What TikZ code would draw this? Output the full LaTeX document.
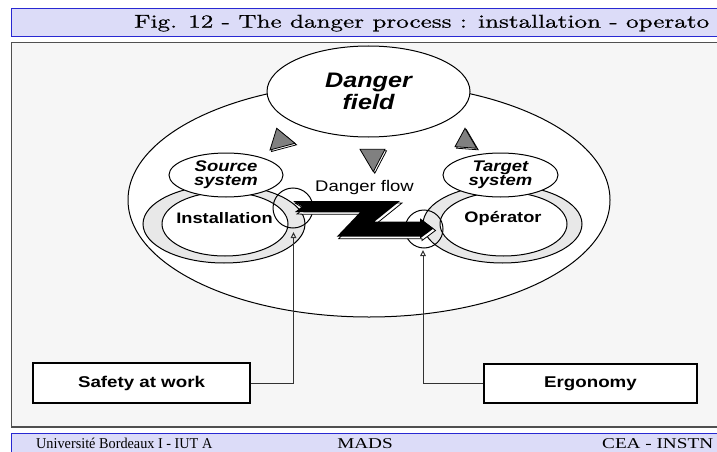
\documentclass[tikz,border=0pt]{standalone}
\usepackage{fontspec}
\setsansfont{Liberation Sans}[FakeStretch=1.2]
\newfontfamily\headfont{lmroman10-regular}[Extension=.otf,FakeStretch=1.35,FakeBold=0.6]
\newfontfamily\footfont{Liberation Serif}[FakeStretch=0.95]
\newfontfamily\footwide{Liberation Serif}[FakeStretch=1.28]
\usetikzlibrary{shapes.geometric,arrows.meta}
\definecolor{bandfill}{RGB}{220,220,248}
\definecolor{bandline}{RGB}{40,40,210}
\definecolor{framefill}{RGB}{246,246,246}
\definecolor{framegray}{RGB}{80,80,80}
\definecolor{ringgray}{RGB}{232,232,232}
\definecolor{wedgegray}{RGB}{128,128,128}
\definecolor{leadgray}{RGB}{50,50,50}
\newcommand{\zbolt}{(293,-201) -- (400,-201) -- (374.3,-221.7) -- (420,-221.7) -- (420,-218.3) -- (433.5,-228.5) -- (420,-238.5) -- (420,-236.7) -- (336.7,-236.7) -- (360,-212.3) -- (305,-212.3) -- (295,-212) -- (302,-206.5) -- cycle}
\begin{document}
\begin{tikzpicture}[x=1pt,y=1pt]
\tikzstyle{every node}+=[inner sep=0pt]
\tikzstyle{bubble}=[ellipse, draw, fill=white, line width=1pt]
\tikzstyle{ring}=[ellipse, draw, fill=ringgray, line width=1pt]
\tikzstyle{port}=[circle, draw, line width=1pt]
\tikzstyle{wedge}=[draw, fill=wedgegray, line width=0.8pt]
\tikzstyle{workbox}=[rectangle, draw, fill=white, line width=1.2pt, font=\sffamily\bfseries\fontsize{15.6}{18}\selectfont]
\tikzstyle{lead}=[draw=leadgray, line width=1pt, -{Triangle[open,length=6pt,width=5.5pt]}]
\clip (0,0) rectangle (717,-452);
\draw [draw=bandline, fill=bandfill, line width=1pt] (11.5,-8.5) rectangle (730,-37);
\node [anchor=base west, font=\headfont\fontsize{18.6}{20}\selectfont] (title) at (134,-27.7) {Fig. 12 - The danger process : installation - operato};
\draw [draw=framegray, fill=framefill, line width=1.5pt] (11.5,-42.5) rectangle (730,-427);
\draw [draw=bandline, fill=bandfill, line width=1pt] (11.5,-433) rectangle (730,-470);
\node [anchor=base west, font=\footfont\fontsize{15}{16}\selectfont] (school) at (36,-448.3) {Université Bordeaux I - IUT A};
\node [anchor=base, font=\footwide\fontsize{15}{16}\selectfont] (course) at (365,-448.3) {MADS};
\node [anchor=base west, font=\footwide\fontsize{15}{16}\selectfont] (lab) at (602,-448.3) {CEA - INSTN};
\node [bubble, minimum width=482, minimum height=234] (area) at (369,-200) {};
\node [bubble, minimum width=203, minimum height=91, align=center, font=\sffamily\bfseries\itshape\fontsize{21}{21.7}\selectfont] (danger) at (368.5,-91.5) {Danger\\field};
\filldraw [wedge, fill=white, shift={(1.5,-1.5)}] (276.7,-128.3) -- (295,-143.3) -- (270,-150) -- cycle;
\filldraw [wedge] (276.7,-128.3) -- (295,-143.3) -- (270,-150) -- cycle;
\filldraw [wedge, fill=white, shift={(1.5,-1.5)}] (360,-149.3) -- (385,-149.3) -- (373.3,-171.7) -- cycle;
\filldraw [wedge] (360,-149.3) -- (385,-149.3) -- (373.3,-171.7) -- cycle;
\filldraw [wedge, fill=white, shift={(1.5,-1.5)}] (465,-128.3) -- (476.7,-148.3) -- (455,-146.7) -- cycle;
\filldraw [wedge] (465,-128.3) -- (476.7,-148.3) -- (455,-146.7) -- cycle;
\node [ring, minimum width=162, minimum height=78] (srcring) at (224,-224) {};
\node [bubble, minimum width=126, minimum height=64] (srcbody) at (225,-224) {};
\node [bubble, minimum width=114, minimum height=44, align=center, font=\sffamily\bfseries\itshape\fontsize{15.4}{14.3}\selectfont] (source) at (226,-175) {Source\\system};
\node [font=\sffamily\bfseries\fontsize{15.2}{16}\selectfont] (install) at (224.5,-218.5) {Installation};
\node [ring, minimum width=159, minimum height=78] (tgtring) at (502.5,-224) {};
\node [bubble, minimum width=127, minimum height=64] (tgtbody) at (503.5,-224) {};
\node [bubble, minimum width=115, minimum height=44, align=center, font=\sffamily\bfseries\itshape\fontsize{15.4}{14.3}\selectfont] (target) at (500.5,-175) {Target\\system};
\node [font=\sffamily\bfseries\fontsize{15.2}{16}\selectfont] (operator) at (503,-219) {Opérator};
\node [anchor=base, font=\sffamily\fontsize{15.4}{16}\selectfont] (flow) at (364.5,-191) {Danger flow};
\node [port, minimum size=40] (srcport) at (293,-208) {};
\node [port, minimum size=38] (tgtport) at (424,-229) {};
\filldraw [fill=white, draw=black, line width=0.8pt, shift={(2,-2)}] \zbolt;
\fill [black] \zbolt;
\coordinate (srcfoot) at (293.5,-232);
\coordinate (tgtfoot) at (423,-250);
\node [workbox, minimum width=217, minimum height=40] (safety) at (141.5,-383) {Safety at work};
\node [workbox, minimum width=213, minimum height=39] (ergo) at (590.5,-383.5) {Ergonomy};
\draw [lead] (safety.east) -| (srcfoot);
\draw [lead] (ergo.west) -| (tgtfoot);
\end{tikzpicture}
\end{document}
